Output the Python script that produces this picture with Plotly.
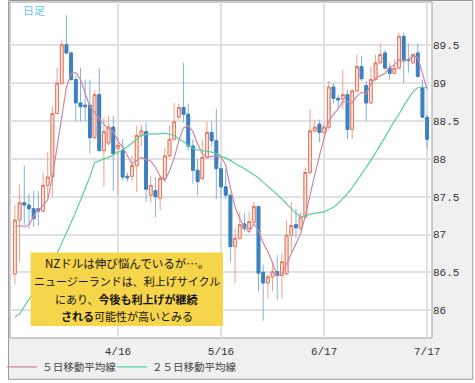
import plotly.graph_objects as go
import pandas as pd

# ---- data (NZD/JPY daily) ----
dates = [d.strftime("%Y-%m-%d") for d in pd.bdate_range("2014-03-17", "2014-07-17")]

opens = [86.48, 87.19, 87.42, 87.39, 87.34, 87.34, 87.31, 87.65, 87.76, 88.60,
         89.00, 89.51, 89.40, 89.05, 88.74, 88.71, 88.71, 88.28, 88.85, 88.11,
         88.21, 88.42, 88.14, 88.11, 87.77, 87.77, 87.91, 88.31, 88.36, 87.52,
         87.58, 87.48, 87.74, 88.04, 88.26, 88.55, 88.68, 88.59, 88.17, 87.85,
         87.74, 88.02, 88.35, 88.24, 87.87, 87.63, 87.52, 86.84, 86.95, 87.14,
         87.08, 87.16, 87.37, 86.50, 86.36, 86.44, 86.51, 86.46, 86.48, 86.99,
         87.13, 87.08, 87.23, 87.82, 88.37, 88.46, 88.35, 88.42, 88.95, 88.80,
         88.79, 88.85, 88.39, 88.90, 89.22, 88.97, 88.74, 89.05, 89.27, 89.40,
         89.20, 89.13, 89.20, 89.62, 89.31, 89.27, 89.40, 88.94, 88.55]
highs = [87.39, 87.66, 87.91, 87.54, 87.58, 87.57, 87.82, 88.09, 88.70, 89.20,
         89.57, 89.90, 89.42, 89.10, 89.20, 89.05, 89.05, 88.90, 89.20, 88.55,
         88.57, 88.57, 88.31, 88.26, 87.82, 88.04, 88.44, 88.45, 88.48, 87.78,
         87.76, 87.78, 88.15, 88.44, 88.74, 88.73, 89.27, 88.73, 88.26, 88.00,
         88.26, 88.50, 88.50, 88.66, 87.96, 87.87, 87.52, 87.08, 87.30, 87.28,
         87.30, 87.43, 87.37, 86.60, 86.47, 86.64, 86.73, 86.75, 87.19, 87.43,
         87.34, 87.30, 87.89, 88.66, 88.52, 88.52, 88.48, 89.03, 89.01, 88.85,
         89.18, 88.91, 88.92, 89.38, 89.36, 89.03, 89.22, 89.38, 89.53, 89.44,
         89.27, 89.31, 89.67, 89.67, 89.53, 89.40, 89.53, 89.05, 88.59]
lows = [86.34, 86.64, 87.12, 87.08, 87.10, 87.12, 87.29, 87.50, 87.50, 88.59,
        88.98, 89.38, 89.03, 88.50, 88.49, 88.50, 88.07, 88.26, 88.09, 87.63,
        88.17, 87.58, 87.52, 87.72, 87.70, 87.70, 87.56, 88.17, 87.43, 87.42,
        87.23, 87.32, 87.72, 88.02, 88.24, 88.52, 88.48, 88.11, 87.67, 87.52,
        87.72, 88.00, 88.17, 87.47, 87.48, 87.47, 86.64, 86.36, 86.93, 87.04,
        87.04, 87.15, 86.25, 85.86, 86.16, 86.25, 86.14, 86.16, 86.47, 86.77,
        86.95, 87.06, 87.21, 87.80, 88.35, 88.22, 88.33, 88.39, 88.73, 88.66,
        88.66, 88.26, 88.26, 88.88, 89.03, 88.50, 88.73, 89.03, 89.25, 89.18,
        89.05, 89.12, 89.18, 89.00, 89.14, 89.25, 89.07, 88.54, 88.13]
closes = [87.19, 87.42, 87.39, 87.34, 87.21, 87.31, 87.65, 87.76, 88.60, 89.00,
          89.51, 89.40, 89.05, 88.74, 88.69, 88.69, 88.28, 88.85, 88.11, 88.36,
          88.42, 88.07, 88.18, 87.76, 87.75, 87.91, 88.31, 88.37, 87.60, 87.65,
          87.50, 87.74, 88.04, 88.26, 88.49, 88.68, 88.59, 88.17, 87.85, 87.70,
          88.02, 88.35, 88.24, 87.87, 87.63, 87.52, 86.84, 86.95, 87.13, 87.08,
          87.17, 87.37, 86.49, 86.36, 86.44, 86.51, 86.46, 86.64, 86.99, 87.12,
          87.09, 87.23, 87.82, 88.37, 88.42, 88.35, 88.42, 88.95, 88.80, 88.78,
          88.85, 88.39, 88.90, 89.22, 89.06, 88.74, 89.05, 89.27, 89.38, 89.20,
          89.13, 89.20, 89.62, 89.31, 89.30, 89.38, 89.09, 88.55, 88.26]

ma5 = [87.10, 87.12, 87.10, 87.13, 87.24, 87.33, 87.38, 87.46, 87.76, 88.17,
       88.60, 88.95, 89.13, 89.14, 89.05, 88.88, 88.69, 88.62, 88.53, 88.46,
       88.40, 88.36, 88.23, 88.16, 88.04, 87.93, 87.98, 88.02, 87.99, 87.97,
       87.89, 87.77, 87.71, 87.84, 88.01, 88.24, 88.41, 88.44, 88.36, 88.20,
       88.07, 88.02, 88.03, 88.04, 88.02, 87.92, 87.62, 87.36, 87.21, 87.10,
       87.03, 87.14, 87.05, 86.89, 86.77, 86.63, 86.45, 86.48, 86.61, 86.74,
       86.86, 87.01, 87.25, 87.53, 87.79, 88.04, 88.28, 88.50, 88.59, 88.66,
       88.76, 88.75, 88.74, 88.83, 88.88, 88.86, 88.99, 89.07, 89.10, 89.13,
       89.21, 89.24, 89.31, 89.29, 89.31, 89.36, 89.34, 89.13, 88.92]
ma25 = [85.91, 85.95, 86.05, 86.14, 86.24, 86.36, 86.47, 86.56, 86.67, 86.75,
        86.88, 87.02, 87.16, 87.30, 87.45, 87.61, 87.76, 87.95, 87.98, 88.00,
        88.02, 88.05, 88.09, 88.12, 88.16, 88.21, 88.26, 88.31, 88.32, 88.33,
        88.33, 88.33, 88.34, 88.33, 88.31, 88.26, 88.23, 88.18, 88.14, 88.12,
        88.11, 88.10, 88.09, 88.07, 88.04, 88.02, 87.98, 87.94, 87.91, 87.87,
        87.83, 87.79, 87.75, 87.69, 87.64, 87.58, 87.53, 87.47, 87.41, 87.34,
        87.28, 87.24, 87.24, 87.27, 87.28, 87.29, 87.30, 87.33, 87.36, 87.41,
        87.47, 87.54, 87.62, 87.71, 87.79, 87.89, 87.98, 88.08, 88.18, 88.29,
        88.39, 88.50, 88.59, 88.70, 88.80, 88.89, 88.94, 88.95, 88.94]

tick_dates = ["2014-04-16", "2014-05-16", "2014-06-17", "2014-07-17"]
tick_labels = ["4/16", "5/16", "6/17", "7/17"]
y_ticks = [86, 86.5, 87, 87.5, 88, 88.5, 89, 89.5]
y_tick_labels = ["86", "86.5", "87", "87.5", "88", "88.5", "89", "89.5"]

ma5_name = "５日移動平均線"
ma25_name = "２５日移動平均線"
period_label = "日足"
comment_lines = [
    "NZドルは伸び悩んでいるが…。",
    "ニュージーランドは、利上げサイクル",
    "にあり、<b>今後も利上げが継続</b>",
    "<b>される</b>可能性が高いとみる",
]

# ---- figure ----
W, H = 475, 383
ML, MR, MT, MB = 2, 43, 2, 43
PW, PH = W - ML - MR, H - MT - MB


def px(p):
    return (p - ML) / PW


def py(q):
    return (MT + PH - q) / PH


body_high = [max(o, c) for o, c in zip(opens, closes)]
body_low = [min(o, c) for o, c in zip(opens, closes)]

UP_LINE, UP_FILL, UP_WICK = "#e4785f", "#fde5de", "#eea08d"
DN_LINE, DN_FILL, DN_WICK = "#3d80c0", "#3d80c0", "#80b2da"

fig = go.Figure()
# wicks
fig.add_trace(go.Candlestick(
    x=dates, open=opens, high=highs, low=lows, close=closes,
    increasing=dict(line=dict(color=UP_WICK, width=1), fillcolor=UP_FILL),
    decreasing=dict(line=dict(color=DN_WICK, width=1), fillcolor=DN_FILL),
    whiskerwidth=0, showlegend=False, hoverinfo="skip"))
# bodies
fig.add_trace(go.Candlestick(
    x=dates, open=opens, high=body_high, low=body_low, close=closes,
    increasing=dict(line=dict(color=UP_LINE, width=1), fillcolor=UP_FILL),
    decreasing=dict(line=dict(color=DN_LINE, width=1), fillcolor=DN_FILL),
    whiskerwidth=0, showlegend=False, hoverinfo="skip"))
fig.add_trace(go.Scatter(x=dates, y=ma5, mode="lines", name=ma5_name, legend="legend",
                         line=dict(color="#cc88a8", width=1.2), hoverinfo="skip"))
fig.add_trace(go.Scatter(x=dates, y=ma25, mode="lines", name=ma25_name, legend="legend2",
                         line=dict(color="#5dcf9a", width=1.2), hoverinfo="skip"))

shapes = [
    # outer panel
    dict(type="rect", xref="paper", yref="paper", layer="below",
         x0=px(0.5), x1=px(473.5), y0=py(381.5), y1=py(0.5),
         fillcolor="#f0f0f0", line=dict(color="#9a9a9a", width=1)),
    # plot area
    dict(type="rect", xref="paper", yref="paper", layer="below",
         x0=0, x1=1, y0=0, y1=1,
         fillcolor="white", line=dict(color="#a0a0a0", width=1)),
    # comment box
    dict(type="rect", xref="paper", yref="paper", layer="above",
         x0=px(23), x1=px(219), y0=py(328), y1=py(254),
         fillcolor="#f7d54a", line=dict(width=0)),
]

annotations = [
    dict(text=period_label, xref="paper", yref="paper", x=px(13), y=py(10),
         xanchor="left", yanchor="middle", showarrow=False,
         font=dict(family="Noto Sans CJK JP", size=11, color="#5cc6f2")),
]
line_y = [265, 283, 301, 318]
line_size = [11.5, 11, 11, 11]
for t, yy, fs in zip(comment_lines, line_y, line_size):
    annotations.append(dict(text=t, xref="paper", yref="paper", x=px(121), y=py(yy),
                            xanchor="center", yanchor="middle", showarrow=False,
                            font=dict(family="Noto Sans CJK JP", size=fs, color="#111")))

tick_font = dict(family="Liberation Mono", size=11, color="#333")
legend_font = dict(family="Noto Sans CJK JP", size=10.5, color="#444")
fig.update_layout(
    width=W, height=H,
    margin=dict(l=ML, r=MR, t=MT, b=MB, pad=0),
    paper_bgcolor="white", plot_bgcolor="white",
    shapes=shapes, annotations=annotations,
    boxgap=0.15,
    showlegend=True,
    legend=dict(orientation="h", x=px(-6), xanchor="left", y=py(369), yanchor="middle",
                font=legend_font, bgcolor="rgba(0,0,0,0)"),
    legend2=dict(orientation="h", x=px(106), xanchor="left", y=py(369), yanchor="middle",
                 font=legend_font, bgcolor="rgba(0,0,0,0)"),
    xaxis=dict(type="category", range=[-1.05, 89.04], tickvals=tick_dates, ticktext=tick_labels,
               showgrid=True, gridcolor="#e1e1e1", gridwidth=2, ticks="", tickfont=tick_font,
               ticklabelstandoff=5,
               rangeslider=dict(visible=False), showline=False, zeroline=False, fixedrange=True),
    yaxis=dict(side="right", range=[85.632, 90.074], tickvals=y_ticks, ticktext=y_tick_labels,
               showgrid=True, gridcolor="#e1e1e1", gridwidth=2, ticks="", tickfont=tick_font,
               showline=False, zeroline=False, fixedrange=True),
    hovermode=False,
)

fig.write_html("out.html", config={"displayModeBar": False},
               post_script="document.body.style.margin='0';document.body.style.padding='0';")
